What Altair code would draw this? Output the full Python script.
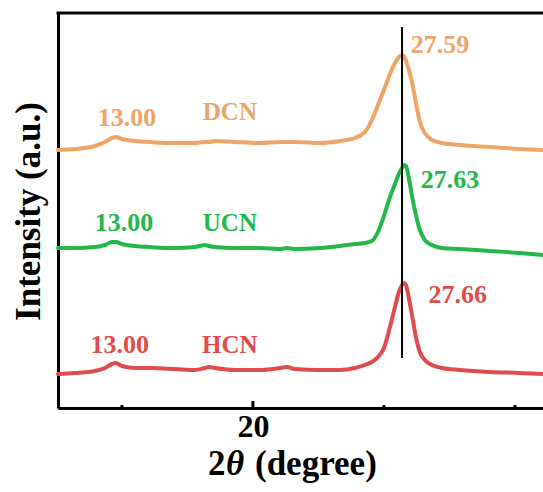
import altair as alt
import pandas as pd

# ---- data ----
two_theta = [12.56, 13.21, 13.97, 14.35, 14.62, 14.77, 15.00, 15.50, 16.07, 17.02,
             17.79, 18.17, 18.32, 18.55, 19.31, 20.27, 21.03, 21.30, 21.60, 22.56,
             23.32, 23.89, 24.27, 24.54, 24.77, 25.00, 25.23, 25.42, 25.57, 25.69,
             25.76, 25.84, 25.95, 26.07, 26.22, 26.37, 26.56, 26.83, 27.21, 27.90,
             29.05, 30.19, 31.07]
dcn = [258, 259, 262, 266, 270, 271, 269, 267, 266, 265,
       265, 266, 266, 267, 266, 265, 266, 266, 266, 265,
       267, 270, 276, 288, 303, 318, 334, 345, 351, 353,
       352, 347, 338, 326, 305, 286, 275, 268, 265, 263,
       261, 259, 258]
ucn = [160, 160, 161, 163, 166, 166, 164, 162, 161, 160,
       161, 163, 162, 161, 160, 160, 159, 160, 159, 160,
       162, 164, 165, 167, 176, 192, 211, 224, 234, 240,
       243, 242, 230, 212, 193, 178, 168, 163, 160, 159,
       157, 155, 153]
hcn = [34, 35, 37, 40, 44, 45, 42, 40, 40, 39,
       38, 40, 41, 40, 38, 38, 40, 41, 39, 38,
       38, 40, 43, 46, 51, 60, 81, 101, 116, 123,
       125, 123, 110, 93, 71, 56, 48, 43, 40, 38,
       36, 35, 34]

series_names = ["DCN", "UCN", "HCN"]
series_colors = ["#F0A466", "#22B84A", "#E04C4C"]

peak_text = ["27.59", "27.63", "27.66"]
peak_x = [27.14, 27.52, 27.82]
peak_y = [363, 228, 113]

low_text = ["13.00", "13.00", "13.00"]
low_x = [15.19, 15.08, 14.92]
low_y = [290, 185, 63]

name_x = [19.12, 19.12, 19.12]
name_y = [296, 185, 63]

ref_x = [25.69]
ref_y1 = [50]
ref_y2 = [381]

major_ticks = [20]
minor_ticks = [15, 25, 30]

# ---- chart ----
W, H = 485, 395
FONT = "Liberation Serif"

n = len(two_theta)
df = pd.DataFrame({
    "two_theta": two_theta * 3,
    "intensity": dcn + ucn + hcn,
    "sample": ["DCN"] * n + ["UCN"] * n + ["HCN"] * n,
})
xscale = alt.Scale(domain=[12.56, 31.07], nice=False, zero=False)
yscale = alt.Scale(domain=[0, 395], nice=False, zero=False)
cscale = alt.Scale(domain=series_names, range=series_colors)

lines = alt.Chart(df).mark_line(strokeWidth=4, strokeJoin="round", strokeCap="round",
                                interpolate="monotone").encode(
    x=alt.X("two_theta:Q", scale=xscale,
            axis=alt.Axis(values=major_ticks, title=None, ticks=False, grid=False,
                          labelFont=FONT, labelFontWeight="bold", labelFontSize=32,
                          labelColor="black", labelPadding=3, format="d",
                          domainColor="black", domainWidth=3)),
    y=alt.Y("intensity:Q", scale=yscale,
            axis=alt.Axis(title=None, labels=False, ticks=False, grid=False,
                          domainColor="black", domainWidth=3)),
    color=alt.Color("sample:N", scale=cscale, legend=None),
    order=alt.Order("two_theta:Q"),
)

lab_peak = pd.DataFrame({"t": peak_text, "x": peak_x, "y": peak_y, "sample": series_names})
lab_low = pd.DataFrame({"t": low_text, "x": low_x, "y": low_y, "sample": series_names})
lab_name = pd.DataFrame({"t": series_names, "x": name_x, "y": name_y, "sample": series_names})

def label_layer(d, size):
    return alt.Chart(d).mark_text(font=FONT, fontWeight="bold", fontSize=size,
                                  align="center", baseline="middle").encode(
        x=alt.X("x:Q", scale=xscale),
        y=alt.Y("y:Q", scale=yscale),
        text="t:N",
        color=alt.Color("sample:N", scale=cscale, legend=None),
    )

ref = alt.Chart(pd.DataFrame({"x": ref_x, "y1": ref_y1, "y2": ref_y2})).mark_rule(
    color="black", strokeWidth=2).encode(
    x=alt.X("x:Q", scale=xscale), y=alt.Y("y1:Q", scale=yscale), y2="y2:Q")

maj = alt.Chart(pd.DataFrame({"t": major_ticks})).mark_rule(color="black", strokeWidth=3).encode(
    x=alt.X("t:Q", scale=xscale), y=alt.value(H), y2=alt.value(H - 7))
mnr = alt.Chart(pd.DataFrame({"t": minor_ticks})).mark_rule(color="black", strokeWidth=3).encode(
    x=alt.X("t:Q", scale=xscale), y=alt.value(H), y2=alt.value(H - 3))

one = pd.DataFrame({"a": [0]})
top = alt.Chart(one).mark_rule(color="black", strokeWidth=3).encode(
    x=alt.value(-1.5), x2=alt.value(W + 5), y=alt.value(0))

ytitle = alt.Chart(one).mark_text(font=FONT, fontWeight="bold", fontSize=35, angle=270,
                                  align="center", baseline="alphabetic", color="black").encode(
    x=alt.value(-18), y=alt.value(198.5), text=alt.value("Intensity (a.u.)"))
xt1 = alt.Chart(one).mark_text(font=FONT, fontWeight="bold", fontSize=35, align="left",
                               baseline="alphabetic", color="black").encode(
    x=alt.value(150), y=alt.value(462), text=alt.value("2"))
xt2 = alt.Chart(one).mark_text(font=FONT, fontWeight="bold", fontStyle="italic", fontSize=35,
                               align="left", baseline="alphabetic", color="black").encode(
    x=alt.value(168), y=alt.value(462), text=alt.value("θ"))
xt3 = alt.Chart(one).mark_text(font=FONT, fontWeight="bold", fontSize=35, align="left",
                               baseline="alphabetic", color="black").encode(
    x=alt.value(197), y=alt.value(462), text=alt.value("(degree)"))

chart = alt.layer(
    lines, ref, maj, mnr, top,
    label_layer(lab_peak, 26), label_layer(lab_low, 26), label_layer(lab_name, 25),
    ytitle, xt1, xt2, xt3,
).properties(
    width=W, height=H,
    autosize=alt.AutoSizeParams(type="none"),
    padding={"left": 58, "top": 13, "right": 0, "bottom": 84},
    background="white",
).configure_view(stroke=None)

chart.save("out.html", embed_options={"renderer": "svg", "actions": False})
